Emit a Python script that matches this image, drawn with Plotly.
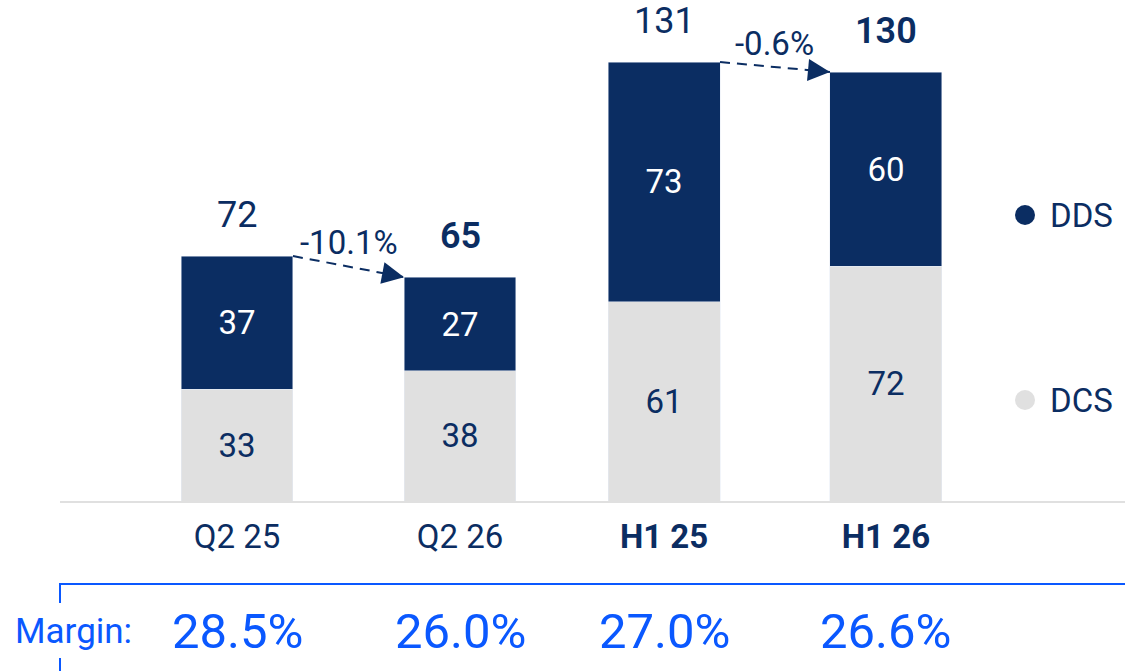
import plotly.graph_objects as go

# ---- data ----
categories = ["Q2 25", "Q2 26", "H1 25", "H1 26"]
# printed labels
dcs_labels = [33, 38, 61, 72]
dds_labels = [37, 27, 73, 60]
total_labels = [72, 65, 131, 130]
# segment heights as drawn in the picture (underlying, unrounded values)
dcs = [33.4, 38.8, 59.4, 70.1]
dds = [39.7, 28.0, 71.6, 57.9]
margins = ["28.5%", "26.0%", "27.0%", "26.6%"]
changes = ["-10.1%", "-0.6%"]          # Q2 25 -> Q2 26, H1 25 -> H1 26
bold_ticks = [False, False, True, True]
bold_totals = [False, True, False, True]

# ---- layout helpers (positions / styles) ----
pos = [0, 1, 1.915, 2.91]
BW = 0.502
NAVY = "#0b2d62"
GRAY = "#e0e0e0"
BLUE = "#0a58ff"
FONT = "Roboto"

W, H = 1125, 671
ML, MR, MT, MB = 60, 0, 0, 170
plot_h = H - MT - MB
plot_w = W - ML - MR
px_per_unit = 3.351
unit_px = 223.0
x0_range = -177 / unit_px
x1_range = x0_range + plot_w / unit_px

tops = [a + b for a, b in zip(dcs, dds)]


def py(y_px):
    """pixel row -> paper y"""
    return (H - MB - y_px) / plot_h


def pxp(x_px):
    """pixel column -> paper x"""
    return (x_px - ML) / plot_w


fig = go.Figure()
fig.add_trace(go.Bar(
    x=pos, y=dcs, width=BW, name="DCS", marker_color=GRAY,
    text=[str(v) for v in dcs_labels], textposition="inside", insidetextanchor="middle",
    textfont=dict(color=NAVY, size=33, family=FONT), textangle=0,
    showlegend=False, hoverinfo="skip"))
fig.add_trace(go.Bar(
    x=pos, y=dds, width=BW, name="DDS", marker_color=NAVY,
    text=[str(v) for v in dds_labels], textposition="inside", insidetextanchor="middle",
    textfont=dict(color="white", size=33, family=FONT), textangle=0,
    showlegend=False, hoverinfo="skip"))

annotations = []
shapes = []

# totals above bars
for p, t, lab, b in zip(pos, tops, total_labels, bold_totals):
    annotations.append(dict(
        x=p, y=t, xref="x", yref="y", text=str(lab), showarrow=False,
        yanchor="middle", yshift=41,
        font=dict(size=36, color=NAVY, family=FONT, weight=600 if b else 400)))

# change arrows
for i, lab in zip([0, 2], changes):
    xs, ys = pos[i] + BW / 2, tops[i]
    xe, ye = pos[i + 1] - BW / 2, tops[i + 1]
    shapes.append(dict(type="line", xref="x", yref="y", x0=xs, y0=ys, x1=xe, y1=ye,
                       line=dict(color=NAVY, width=2, dash="10px,7px")))
    dxp = (xe - xs) * unit_px
    dyp = (ys - ye) * px_per_unit
    L = (dxp ** 2 + dyp ** 2) ** 0.5
    annotations.append(dict(
        x=xe, y=ye, xref="x", yref="y", showarrow=True, text=" ",
        font=dict(size=1, color="rgba(0,0,0,0)"),
        ax=-dxp / L * 18, ay=-dyp / L * 18, arrowhead=2, arrowsize=2.2, arrowwidth=2,
        arrowcolor=NAVY, standoff=0))
    annotations.append(dict(
        x=(xs + xe) / 2, y=(ys + ye) / 2, xref="x", yref="y", text=lab, showarrow=False,
        yanchor="middle", yshift=24, font=dict(size=33, color=NAVY, family=FONT)))

# legend (manual)
for name, color, ypix in [("DDS", NAVY, 215), ("DCS", GRAY, 400)]:
    shapes.append(dict(type="circle", xref="paper", yref="paper",
                       xsizemode="pixel", ysizemode="pixel",
                       xanchor=pxp(1025), yanchor=py(ypix),
                       x0=-10, x1=10, y0=-10, y1=10,
                       fillcolor=color, line=dict(width=0)))
    annotations.append(dict(
        x=pxp(1048), y=py(ypix), xref="paper", yref="paper", xanchor="left",
        yanchor="middle", text=name, showarrow=False,
        font=dict(size=33, color=NAVY, family=FONT)))

# margin bracket
shapes.append(dict(type="line", xref="paper", yref="paper", x0=0, x1=1,
                   y0=py(584), y1=py(584), line=dict(color=BLUE, width=2)))
shapes.append(dict(type="line", xref="paper", yref="paper", x0=0, x1=0,
                   y0=py(583), y1=py(603), line=dict(color=BLUE, width=2)))
shapes.append(dict(type="line", xref="paper", yref="paper", x0=0, x1=0,
                   y0=py(658), y1=py(675), line=dict(color=BLUE, width=2)))
annotations.append(dict(
    x=pxp(13), y=py(631), xref="paper", yref="paper", xanchor="left", yanchor="middle",
    text="Margin:", showarrow=False, font=dict(size=35, color=BLUE, family=FONT)))
for p, m in zip(pos, margins):
    annotations.append(dict(
        x=p, y=py(631), xref="x", yref="paper", text=m, showarrow=False,
        yanchor="middle", font=dict(size=49, color=BLUE, family=FONT)))

ticktext = [f"<b>{c}</b>" if b else c for c, b in zip(categories, bold_ticks)]

fig.update_layout(
    width=W, height=H, barmode="stack",
    margin=dict(l=ML, r=MR, t=MT, b=MB),
    paper_bgcolor="white", plot_bgcolor="white",
    font=dict(family=FONT, color=NAVY),
    showlegend=False,
    annotations=annotations, shapes=shapes,
    xaxis=dict(range=[x0_range, x1_range], tickvals=pos, ticktext=ticktext,
               showgrid=False, zeroline=False, showline=True, linecolor=GRAY, linewidth=2,
               ticks="", tickfont=dict(size=33, color=NAVY, family=FONT),
               ticklabelstandoff=5, fixedrange=True),
    yaxis=dict(range=[0, plot_h / px_per_unit], visible=False, showgrid=False,
               zeroline=False, fixedrange=True),
)

fig.write_html("out.html", config={"displayModeBar": False},
               post_script="document.body.style.margin='0';document.body.style.overflow='hidden';")
